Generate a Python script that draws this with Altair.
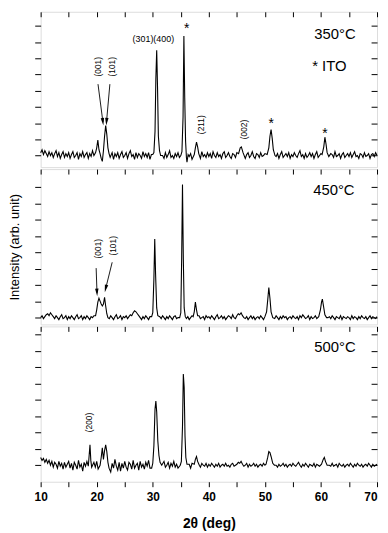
import altair as alt
import pandas as pd

FONT = "Liberation Sans"
X_MIN, X_MAX = 10, 70
GRID_STEP = 0.25
x_ticks = [10, 15, 20, 25, 30, 35, 40, 45, 50, 55, 60, 65, 70]
y_ticks = [0, 16.8, 33.6, 50.4, 67.2, 84, 100.8, 117.6, 134.4]

# ---- 350 C trace (baseline noise on 0.25 deg grid, then peaks) ----
noise_350 = [3, 6, 1, 5, 2, -1, 4, 0, 3, -2, 2, 5, -1, 3, -3, 1, 4, -2, 2, -1,
             3, -3, 1, 4, -2, 0, 3, -4, 2, -1, 4, -2, 1, 3, -3, 2, -1, 5, 0, 2,
             4, 1, -2, 3, 0, -3, 2, -1, 4, -2, 1, 3, -4, 2, -1, 3, -3, 1, 4, -2,
             0, 3, -3, 2, 5, -1, 1, -4, 3, -2, 2, 0, -3, 4, -1, 2, -2, 3, -4, 1,
             3, -2, 1, -4, 2, 4, -1, 0, -3, 3, -2, 1, 5, -2, 0, -3, 2, -1, 3, -2,
             1, -3, 2, 0, -2, 3, -1, 2, -4, 1, 3, -2, 0, 2, -3, 4, -1, 1, -2, 3,
             -1, 2, -3, 4, 0, -2, 3, -1, 1, -3, 2, 4, -2, 0, 3, -1, -3, 2, 1, -2,
             3, 0, -2, 4, -1, 2, -3, 1, 3, -2, 0, 4, -1, -3, 2, 1, -2, 3, -1, 0,
             2, -3, 1, 4, -1, 0, -2, 3, -1, 2, -3, 1, 4, -2, 0, 2, -1, 3, -3, 1,
             -1, 3, 0, -2, 2, 5, -1, 1, -3, 2, -2, 0, 3, -1, 2, -3, 1, 4, -2, 0,
             2, -2, 1, 3, -1, 0, -3, 2, 1, -2, 4, -1, 0, 2, -3, 1, 3, -2, 0, 2,
             -1, 3, -2, 1, 4, -1, 0, -3, 2, 1, -2, 3, -1, 0, 2, -3, 1, 2, -1, 3,
             0]
peak_350_x = [19.8, 20.0, 20.2, 20.4, 20.6, 20.8, 21.0, 21.2, 21.4, 21.6, 21.8, 22.0, 22.2, 22.4,
              30.0, 30.2, 30.4, 30.55, 30.7, 30.85, 31.0, 31.2, 31.4,
              35.0, 35.2, 35.4, 35.55, 35.7, 35.85, 36.0, 36.1, 36.3,
              37.4, 37.6, 37.8, 38.0, 38.2,
              45.3, 45.6, 45.8, 46.1,
              50.4, 50.7, 50.9, 51.1, 51.3, 51.5, 51.8,
              60.2, 60.5, 60.7, 60.9, 61.1, 61.4]
peak_350_y = [3, 8, 16, 6, 2, -3, -6, 5, 20, 31, 22, 8, 2, -2,
              1, 3, 25, 80, 109, 70, 20, 5, 0,
              0, 4, 40, 124, 60, 15, -2, -7, 1,
              1, 8, 14, 9, 2,
              2, 8, 9, 3,
              1, 8, 20, 27, 18, 6, 0,
              1, 9, 19, 12, 3, -1]

# ---- 450 C trace ----
noise_450 = [0, 2, -1, 1, 3, 4, 2, 5, 3, 1, -1, 2, 0, -2, 1, 3, -1, 0, 2, -2,
             1, -1, 2, 0, -2, 1, 3, -1, 0, 2, -2, 1, -1, 2, 0, -2, 1, 0, 2, -1,
             3, 5, 7, 4, 6, 8, 5, 3, 1, -1, 2, 0, -2, 1, 3, -1, 0, 2, -2, 1,
             0, 2, -1, 1, 3, 2, 5, 7, 6, 4, 2, 0, -2, 1, -1, 2, 0, -2, 1, 2,
             -1, 1, -2, 2, 0, 1, -1, 2, 0, -2, 1, -1, 2, 0, -2, 1, 2, -1, 0, 1,
             -2, 1, 0, 2, -1, 1, -2, 0, 2, -1, 1, 0, -2, 2, -1, 0, 1, -2, 2, 0,
             1, -1, 2, 0, -2, 1, 3, -1, 0, 2, -1, 1, -2, 0, 2, 1, -1, 3, 0, -1,
             2, 4, 3, 5, 2, 0, -1, 1, -2, 0, 2, -1, 1, -2, 0, 1, -1, 2, 0, -2,
             1, -1, 0, 2, -2, 1, 0, -1, 2, 0, -2, 1, -1, 2, 0, 1, -2, 0, 1, -1,
             2, 0, -1, 1, -2, 2, 0, 3, 1, -1, 0, 2, -2, 1, -1, 0, 2, -1, 1, -2,
             0, 2, -1, 1, -2, 0, 1, -1, 2, 0, -2, 1, 0, -1, 2, -2, 1, 0, -1, 1,
             0, -2, 2, -1, 1, 0, -2, 1, -1, 2, 0, -1, 1, -2, 0, 2, -1, 1, 0, -1,
             1]
peak_450_x = [19.8, 20.0, 20.2, 20.4, 20.6, 20.8, 21.0, 21.2, 21.4, 21.6, 21.8, 22.0,
              29.8, 30.0, 30.2, 30.35, 30.5, 30.7, 30.9,
              34.8, 35.0, 35.15, 35.3, 35.45, 35.6, 35.8,
              37.2, 37.4, 37.6, 37.8, 38.0,
              50.0, 50.3, 50.5, 50.7, 50.9, 51.1, 51.4,
              59.6, 59.9, 60.1, 60.25, 60.45, 60.7, 61.0]
peak_450_y = [2, 8, 16, 20, 17, 14, 12, 14, 21, 12, 4, 0,
              1, 5, 40, 81, 45, 10, 2,
              0, 5, 60, 137, 60, 10, 1,
              1, 6, 16, 8, 2,
              1, 6, 18, 31, 20, 6, 0,
              1, 8, 16, 19, 12, 3, 0]

# ---- 500 C trace ----
noise_500 = [8, 5, 7, 3, 6, 2, 5, 0, 4, -2, 3, 1, -3, 4, -1, 2, -4, 3, -2, 1,
             4, -3, 2, -5, 3, 0, -4, 5, -2, 1, -6, 3, -1, 4, -3, 2, -5, 1, 3, -2,
             4, -4, 2, 6, -3, 1, -5, 4, -2, 5, -7, 2, -3, 6, -1, -5, 3, -6, 2, -3,
             4, -2, -5, 3, 1, -4, 5, -3, 0, 2, -5, 4, -2, 1, -4, 3, -1, 5, -3, 2,
             0, 3, -2, 4, -1, 2, -3, 1, 4, -2, 0, 3, -3, 2, -1, 4, -2, 1, -3, 3,
             -1, 2, 0, -2, 3, -1, 1, -3, 2, 0, -2, 3, -1, 1, -2, 2, 0, -1, 2, -2,
             1, -1, 2, 0, -2, 1, -1, 2, -2, 0, 1, -1, 2, -1, 0, -2, 1, 2, -1, 0,
             1, 3, 2, 4, 1, -1, 0, 2, -2, 1, -1, 0, 2, -1, 1, -2, 0, 1, -1, 2,
             0, -1, 2, -2, 1, 0, -1, 2, 0, -2, 1, -1, 0, 2, -1, 1, -2, 0, 1, -1,
             2, 0, -1, 1, 3, 0, -2, 1, -1, 2, 0, -2, 1, 0, -1, 2, -2, 1, 0, -1,
             1, -1, 2, 0, -2, 1, 0, -1, 2, -1, 0, 1, -2, 2, 0, -1, 1, -2, 0, 1,
             -1, 2, 0, -2, 1, -1, 2, 0, -1, 1, -2, 0, 1, -1, 2, 0, -2, 1, -1, 0,
             1]
peak_500_x = [18.5, 18.65, 18.8, 18.95, 19.1,
              20.6, 20.8, 21.0, 21.2, 21.4, 21.6, 21.8, 22.0, 22.2,
              29.8, 30.0, 30.2, 30.4, 30.55, 30.7, 30.9, 31.1, 31.3, 31.6,
              34.9, 35.1, 35.3, 35.45, 35.6, 35.75, 35.9, 36.1,
              37.4, 37.6, 37.8, 38.0, 38.3,
              50.2, 50.5, 50.7, 50.9, 51.1, 51.4, 51.7,
              60.1, 60.4, 60.6, 60.8, 61.1]
peak_500_y = [-1, 10, 21, 5, -2,
              0, 8, 18, 6, 15, 21, 14, 3, -3,
              -3, 2, 20, 58, 66, 55, 25, 10, 3, 0,
              0, 4, 40, 94, 80, 30, 8, 1,
              1, 6, 9, 4, 0,
              1, 8, 14, 13, 9, 2, 0,
              1, 6, 8, 4, 0]

# ---- annotations ----
rot_350_text = ["(001)", "(101)", "(211)", "(002)"]
rot_350_x = [20.2, 22.76, 38.64, 46.3]
rot_350_y = [92, 92, 32, 27]
flat_350_text = ["(301)(400)"]
flat_350_x = [30.1]
flat_350_y = [121]
star_350_x = [36.06, 51.1, 60.7]
star_350_y = [131, 33, 22]
big_350_text = ["350°C", "* ITO"]
big_350_x = [62.5, 61.5]
big_350_y = [126, 93]
arrow_350_x = [20.23, 22.35]
arrow_350_y = [74, 74]
arrow_350_x2 = [21.1, 21.75]
arrow_350_y2 = [35, 35]
arrow_350_ang = [353, 5]

rot_450_text = ["(001)", "(101)"]
rot_450_x = [20.23, 22.9]
rot_450_y = [71, 74]
big_450_text = ["450°C"]
big_450_x = [62.3]
big_450_y = [131]
arrow_450_x = [19.9, 22.76]
arrow_450_y = [51, 57]
arrow_450_x2 = [20.05, 21.6]
arrow_450_y2 = [26, 30]
arrow_450_ang = [357, 13]

rot_500_text = ["(200)"]
rot_500_x = [18.65]
rot_500_y = [44]
big_500_text = ["500°C"]
big_500_x = [62.5]
big_500_y = [122]

y_dom_350 = [-12, 149]
y_dom_450 = [-7, 153]
y_dom_500 = [-17, 143]

W, H = 340, 157
ARROW_PATH = "M-0.45,-1L0.45,-1L0,1Z"


def trace(noise, px, py):
    grid = [X_MIN + GRID_STEP * i for i in range(len(noise))]
    pts = [(x, y) for x, y in zip(grid, noise) if all(abs(x - p) >= 0.15 for p in px)]
    pts += list(zip(px, py))
    pts.sort()
    return pd.DataFrame(pts, columns=["x", "y"])


def panel(df, ydom, rot, flat, stars, big, arrows, bottom, ytitle):
    xs = alt.Scale(domain=[X_MIN, X_MAX], nice=False, zero=False)
    ys = alt.Scale(domain=ydom, nice=False, zero=False)
    if bottom:
        xaxis = alt.Axis(orient="bottom", values=x_ticks, tickSize=5, domain=False, grid=False,
                         labelExpr="datum.value % 10 == 0 ? datum.label : ''",
                         labelAlign={"condition": {"test": "datum.value == 70", "value": "right"},
                                     "value": "center"},
                         labelFlush=False, labelFont=FONT, labelFontSize=12, labelFontWeight="bold",
                         labelPadding=5, labelColor="black", tickColor="black",
                         title="2θ (deg)", titleFont=FONT, titleFontSize=14, titleFontWeight="bold",
                         titlePadding=14, titleColor="black")
    else:
        xaxis = None
    if ytitle:
        yaxis = alt.Axis(orient="left", values=y_ticks, tickSize=6, labels=False, domain=False, grid=False,
                         tickColor="black", title="Intensity (arb. unit)", titleFont=FONT, titleFontSize=13,
                         titleFontWeight="normal", titlePadding=13, titleColor="black")
    else:
        yaxis = alt.Axis(orient="left", values=y_ticks, tickSize=6, labels=False, domain=False, grid=False,
                         tickColor="black", title=None)
    line = alt.Chart(df).mark_line(color="black", strokeWidth=1.1).encode(
        x=alt.X("x:Q", scale=xs, axis=xaxis),
        y=alt.Y("y:Q", scale=ys, axis=yaxis),
    )
    ghost = alt.Chart(df).mark_line(opacity=0).encode(
        x=alt.X("x:Q", scale=xs, axis=alt.Axis(orient="top", values=x_ticks, tickSize=5, offset=-5,
                                               labels=False, domain=False, grid=False, tickColor="black",
                                               title=None)),
        y=alt.Y("y:Q", scale=ys, axis=alt.Axis(orient="right", values=y_ticks, tickSize=6, offset=-6,
                                               labels=False, domain=False, grid=False, tickColor="black",
                                               title=None)),
    )
    layers = [line, ghost]

    def xy():
        return dict(x=alt.X("x:Q", scale=xs, axis=None), y=alt.Y("y:Q", scale=ys, axis=None))

    if rot is not None:
        d = pd.DataFrame({"t": rot[0], "x": rot[1], "y": rot[2]})
        layers.append(alt.Chart(d).mark_text(angle=270, font=FONT, fontSize=8.5, color="black",
                                             align="center", baseline="middle")
                      .encode(text="t:N", **xy()))
    if flat is not None:
        d = pd.DataFrame({"t": flat[0], "x": flat[1], "y": flat[2]})
        layers.append(alt.Chart(d).mark_text(font=FONT, fontSize=9, color="black",
                                             align="center", baseline="middle")
                      .encode(text="t:N", **xy()))
    if stars is not None:
        d = pd.DataFrame({"t": ["*"] * len(stars[0]), "x": stars[0], "y": stars[1]})
        layers.append(alt.Chart(d).mark_text(font=FONT, fontSize=14, color="black",
                                             align="center", baseline="middle")
                      .encode(text="t:N", **xy()))
    if big is not None:
        d = pd.DataFrame({"t": big[0], "x": big[1], "y": big[2]})
        layers.append(alt.Chart(d).mark_text(font=FONT, fontSize=15, color="black",
                                             align="center", baseline="middle")
                      .encode(text="t:N", **xy()))
    if arrows is not None:
        d = pd.DataFrame({"x": arrows[0], "y": arrows[1], "x2": arrows[2], "y2": arrows[3], "a": arrows[4]})
        layers.append(alt.Chart(d).mark_rule(color="black", strokeWidth=0.9).encode(
            x=alt.X("x:Q", scale=xs, axis=None), y=alt.Y("y:Q", scale=ys, axis=None),
            x2="x2:Q", y2="y2:Q"))
        layers.append(alt.Chart(d).mark_point(shape=ARROW_PATH, filled=True, size=60, color="black",
                                              opacity=1).encode(
            x=alt.X("x2:Q", scale=xs, axis=None), y=alt.Y("y2:Q", scale=ys, axis=None),
            angle=alt.Angle("a:Q", scale=None)))

    return alt.layer(*layers).resolve_axis(x="independent", y="independent").properties(width=W, height=H)


p1 = panel(trace(noise_350, peak_350_x, peak_350_y), y_dom_350,
           (rot_350_text, rot_350_x, rot_350_y), (flat_350_text, flat_350_x, flat_350_y),
           (star_350_x, star_350_y), (big_350_text, big_350_x, big_350_y),
           (arrow_350_x, arrow_350_y, arrow_350_x2, arrow_350_y2, arrow_350_ang), False, False)
p2 = panel(trace(noise_450, peak_450_x, peak_450_y), y_dom_450,
           (rot_450_text, rot_450_x, rot_450_y), None, None, (big_450_text, big_450_x, big_450_y),
           (arrow_450_x, arrow_450_y, arrow_450_x2, arrow_450_y2, arrow_450_ang), False, True)
p3 = panel(trace(noise_500, peak_500_x, peak_500_y), y_dom_500,
           (rot_500_text, rot_500_x, rot_500_y), None, None, (big_500_text, big_500_x, big_500_y),
           None, True, False)

chart = alt.vconcat(p1, p2, p3, spacing=0).properties(
    padding={"left": 0, "top": 0, "right": 0, "bottom": 0}
).configure_view(stroke="black", strokeWidth=1).configure(background="white")

chart.save("out.html", embed_options={"renderer": "svg", "actions": False})
